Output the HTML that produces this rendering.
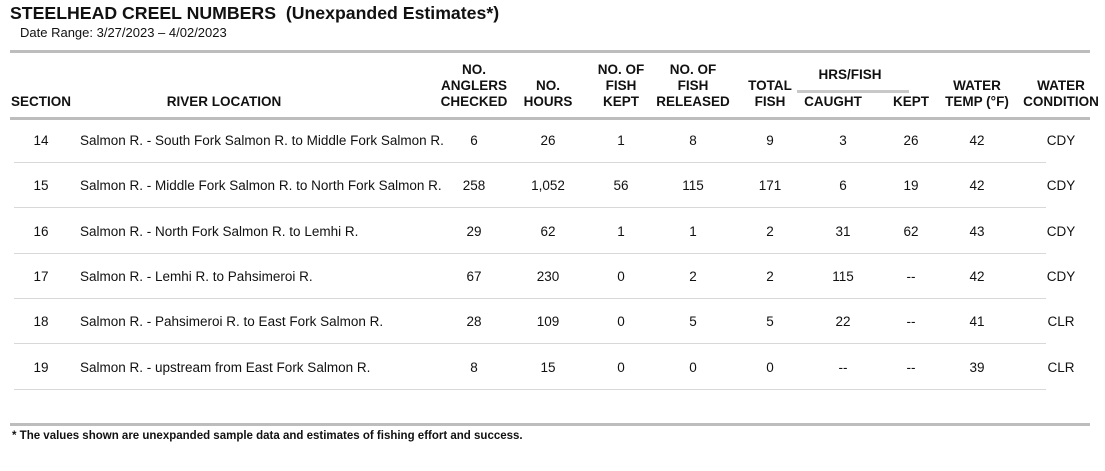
<!DOCTYPE html>
<html><head><meta charset="utf-8"><style>
body{margin:0;width:1105px;height:471px;background:#fff;font-family:"Liberation Sans",Arial,sans-serif;color:#111;position:relative;overflow:hidden}
.a{position:absolute;white-space:nowrap}
.t{font-size:17.7px;font-weight:bold;left:10px;top:3px}
.d{font-size:13px;left:20px;top:25px}
.thick{position:absolute;left:10px;width:1080px;height:3px;background:#bdbdbd}
.thin{position:absolute;left:14px;width:1032px;height:1px;background:#d8d8d8}
.h{font-size:13.5px;font-weight:bold;text-align:center;line-height:16px;transform:translateX(-50%)}
.c{font-size:13.5px;transform:translateX(-50%);text-align:center}
.l{font-size:13.5px;left:80px}
.f{font-size:11.5px;font-weight:bold;left:12px;top:430px}
</style></head><body>
<div class="a t">STEELHEAD CREEL NUMBERS&nbsp; (Unexpanded Estimates*)</div>
<div class="a d">Date Range: 3/27/2023 – 4/02/2023</div>
<div class="thick" style="top:50px"></div>
<div class="a h" style="left:41px;top:94px">SECTION</div>
<div class="a h" style="left:224px;top:94px">RIVER LOCATION</div>
<div class="a h" style="left:474px;top:62px">NO.<br>ANGLERS<br>CHECKED</div>
<div class="a h" style="left:548px;top:78px">NO.<br>HOURS</div>
<div class="a h" style="left:621px;top:62px">NO. OF<br>FISH<br>KEPT</div>
<div class="a h" style="left:693px;top:62px">NO. OF<br>FISH<br>RELEASED</div>
<div class="a h" style="left:770px;top:78px">TOTAL<br>FISH</div>
<div class="a h" style="left:850px;top:67px">HRS/FISH</div>
<div class="a" style="left:797px;top:90px;width:112px;height:3px;background:#c8c8c8"></div>
<div class="a h" style="left:833px;top:94px">CAUGHT</div>
<div class="a h" style="left:911px;top:94px">KEPT</div>
<div class="a h" style="left:977px;top:78px">WATER<br>TEMP (°F)</div>
<div class="a h" style="left:1061px;top:78px">WATER<br>CONDITION</div>
<div class="thick" style="top:117px"></div>
<div id="rows"></div>
<div class="thick" style="top:423px"></div>
<div class="a f">* The values shown are unexpanded sample data and estimates of fishing effort and success.</div>
<script>
const sections=["14","15","16","17","18","19"];
const locations=["Salmon R. - South Fork Salmon R. to Middle Fork Salmon R.","Salmon R. - Middle Fork Salmon R. to North Fork Salmon R.","Salmon R. - North Fork Salmon R. to Lemhi R.","Salmon R. - Lemhi R. to Pahsimeroi R.","Salmon R. - Pahsimeroi R. to East Fork Salmon R.","Salmon R. - upstream from East Fork Salmon R."];
const anglers=["6","258","29","67","28","8"];
const hours=["26","1,052","62","230","109","15"];
const kept=["1","56","1","0","0","0"];
const released=["8","115","1","2","5","0"];
const total=["9","171","2","2","5","0"];
const caught=["3","6","31","115","22","--"];
const keptHrs=["26","19","62","--","--","--"];
const temp=["42","42","43","42","41","39"];
const cond=["CDY","CDY","CDY","CDY","CLR","CLR"];
const cols=[[sections,41,"section"],[anglers,474,"anglers"],[hours,548,"hours"],[kept,621,"fish-kept"],[released,693,"fish-released"],[total,770,"total-fish"],[caught,843,"hrs-caught"],[keptHrs,911,"hrs-kept"],[temp,977,"water-temp"],[cond,1061,"water-condition"]];
const root=document.getElementById('rows');
sections.forEach((s,i)=>{
  const y=133+i*45.3;
  cols.forEach(([arr,x,n])=>{
    const d=document.createElement('div');d.className='a c';
    d.style.left=x+'px';d.style.top=y+'px';d.textContent=arr[i];
    
    
    root.appendChild(d);
  });
  const l=document.createElement('div');l.className='a l';l.style.top=y+'px';l.textContent=locations[i];
  
  
  root.appendChild(l);
  const r=document.createElement('div');r.className='thin';r.style.top=(y+29)+'px';
  
  
  root.appendChild(r);
});
</script>
</body></html>
